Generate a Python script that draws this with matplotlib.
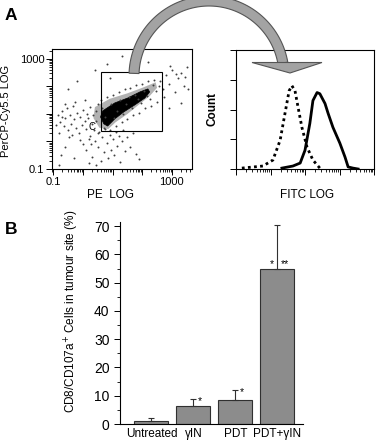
import numpy as np
import matplotlib
matplotlib.use('Agg')
import matplotlib.pyplot as plt
from matplotlib.patches import Polygon, Rectangle
from matplotlib.ticker import LogLocator, MultipleLocator

plt.rcParams['font.family'] = ['Liberation Sans', 'DejaVu Sans']

# ---- panel B: bar chart values
groups = ['Untreated', 'γIN', 'PDT', 'PDT+γIN']
cd107_pct = [1.2, 6.2, 8.6, 54.8]
cd107_err = [0.9, 2.8, 3.3, 15.7]

# ---- panel A right: FITC histograms (log10 FITC, relative count)
iso_fitc_log = [0.17, 0.78, 1.07, 1.28, 1.42, 1.54, 1.62, 1.71, 1.80, 1.91, 2.06, 2.23, 2.43]
iso_count = [0.03, 0.10, 0.30, 0.97, 1.87, 2.63, 2.80, 2.63, 2.07, 1.40, 0.73, 0.30, 0.03]
cd107_fitc_log = [1.33, 1.65, 1.86, 2.00, 2.14, 2.23, 2.35, 2.43, 2.58, 2.67, 2.81, 3.01, 3.16, 3.25, 3.39, 3.54]
cd107_count = [0.03, 0.10, 0.20, 0.63, 1.53, 2.30, 2.57, 2.53, 2.20, 1.87, 1.40, 0.87, 0.40, 0.07, 0.03, 0.00]

# ---- panel A left: PE vs PerCP-Cy5.5 events (log10 values)
pe_log = [
    -0.85, -0.78, -0.72, -0.66, -0.60, -0.55, -0.50, -0.45, -0.40, -0.35,
    -0.30, -0.25, -0.20, -0.15, -0.10, -0.05, 0.00, 0.05, 0.10, 0.12,
    0.18, 0.22, 0.25, 0.30, 0.35, 0.38, 0.42, 0.45, 0.50, 0.52,
    -0.80, -0.62, -0.48, -0.28, -0.12, 0.08, 0.28, -0.90, -0.70, -0.38,
    0.10, 0.20, 0.30, 0.40, 0.50, 0.55, 0.60, 0.65, 0.70, 0.75,
    0.80, 0.85, 0.90, 0.95, 1.00, 1.05, 1.10, 1.15, 1.20, 1.25,
    1.30, 1.35, 1.40, 1.50, 1.60, 1.70, 1.80, 0.45, -0.30, -0.60,
    -0.75, 0.00,
    0.60, 0.70, 0.80, 0.90, 1.00, 1.10, 1.20, 1.30, 1.40, 1.50,
    1.60, 1.70, 1.80, 1.90, 2.00, 2.10, 2.20, 2.30, 2.40, 2.50,
    0.65, 0.95, 1.25, 1.55, 1.85, 2.15, 2.45, 1.05, 1.35, 1.65,
    1.95, 2.25, 2.55, 0.75, 1.15, 1.45, 1.75, 2.05, 2.35, 2.60,
    2.70, 2.80, 2.90, 3.00, 3.10, 3.20, 3.30, 3.40, 3.50, 2.75,
    2.95, 3.15, 3.45, 3.55,
    0.80, 1.30, -0.20, 0.40, 1.90, 2.20, -0.50, 0.90, 3.30, 2.90,
    -0.80, 1.90, 0.20,
]
percp_log = [
    0.95, 0.70, 1.10, 0.55, 0.85, 1.20, 0.40, 0.95, 0.65, 1.30,
    0.80, 0.50, 1.05, 0.30, 0.90, 0.60, 1.15, 0.75, 0.45, 1.00,
    0.85, 0.20, 1.25, 0.65, 0.95, 0.40, 1.10, 0.75, 0.30, 1.35,
    0.30, 1.35, 0.15, 1.45, 0.05, 1.50, -0.10, 0.60, 0.90, 0.25,
    -0.30, 0.10, -0.55, 0.00, -0.20, 0.35, -0.70, 0.15, -0.40, 0.45,
    -0.05, -0.60, 0.25, -0.30, 0.10, -0.50, 0.35, -0.15, 0.20, -0.75,
    0.00, 0.40, -0.35, 0.15, -0.20, 0.30, -0.45, -0.85, -0.60, -0.20,
    -0.50, -0.10,
    1.50, 0.50, 1.60, 0.40, 1.70, 0.55, 1.80, 0.70, 1.90, 0.80,
    1.95, 0.95, 2.05, 1.05, 2.10, 1.20, 2.20, 1.30, 2.25, 1.45,
    1.20, 1.35, 1.50, 1.60, 1.55, 1.65, 1.85, 0.85, 1.00, 1.20,
    1.40, 1.55, 2.00, 0.90, 1.10, 1.35, 1.70, 1.85, 2.05, 2.20,
    1.90, 2.40, 2.10, 2.60, 1.80, 2.30, 2.50, 2.00, 2.70, 1.60,
    2.75, 2.45, 2.35, 1.90,
    2.80, 3.10, 2.20, 2.60, 3.05, 2.90, 1.90, 2.30, 1.40, 1.20,
    -0.85, -0.65, -0.80,
]
# dense core of events (outline) and the grey zone around it
core_pe_log = [0.66, 1.07, 1.51, 1.92, 2.19, 2.25, 2.09, 1.75, 1.37, 1.07, 0.83, 0.70, 0.59]
core_percp_log = [1.11, 1.40, 1.58, 1.80, 1.91, 1.80, 1.58, 1.33, 1.07, 0.82, 0.56, 0.64, 0.89]
halo_pe_log = [0.40, 0.90, 1.50, 2.00, 2.45, 2.50, 2.25, 1.90, 1.50, 1.10, 0.85, 0.55, 0.35]
halo_percp_log = [1.25, 1.55, 1.75, 1.95, 2.15, 1.95, 1.65, 1.35, 1.00, 0.70, 0.45, 0.50, 0.85]
gate_pe_log = [0.59, 2.66]
gate_percp_log = [0.38, 2.53]

W, H = 376, 443
fig = plt.figure(figsize=(W / 100, H / 100), dpi=100)


def box(left, top, right, bottom):
    return [left / W, 1 - bottom / H, (right - left) / W, (bottom - top) / H]


def fpt(x, y):
    return (x / W, 1 - y / H)


# ---------------- scatter
ax_s = fig.add_axes(box(52, 49, 192, 169))
ax_s.set_xscale('log')
ax_s.set_yscale('log')
ax_s.add_patch(Polygon(np.column_stack([10 ** np.array(halo_pe_log), 10 ** np.array(halo_percp_log)]),
                       closed=True, facecolor='#808080', edgecolor='none', alpha=0.6))
ax_s.add_patch(Polygon(np.column_stack([10 ** np.array(core_pe_log), 10 ** np.array(core_percp_log)]),
                       closed=True, facecolor='black', edgecolor='black', lw=0.5))
ax_s.scatter(10 ** np.array(pe_log), 10 ** np.array(percp_log), s=2.0, c='#404040', lw=0)
gx = 10 ** np.array(gate_pe_log)
gy = 10 ** np.array(gate_percp_log)
ax_s.add_patch(Rectangle((gx[0], gy[0]), gx[1] - gx[0], gy[1] - gy[0],
                         fill=False, edgecolor='black', lw=0.8))
ax_s.text(10 ** 0.29, 10 ** 0.53, 'C', fontsize=7, ha='center', va='center')
ax_s.set_xlim(10 ** -1.05, 10 ** 3.68)
ax_s.set_ylim(10 ** -1, 10 ** 3.36)
for axis in (ax_s.xaxis, ax_s.yaxis):
    axis.set_minor_locator(LogLocator(base=10, subs=np.arange(2, 10), numticks=20))
ax_s.set_xticks([0.1, 1, 10, 100, 1000], labels=['0.1', '', '', '', '1000'])
ax_s.set_yticks([0.1, 1, 10, 100, 1000], labels=['0.1', '', '', '', '1000'])
ax_s.tick_params(which='major', direction='out', length=4, width=0.7, labelsize=8, pad=1.5)
ax_s.tick_params(which='minor', direction='out', length=2.5, width=0.6)
ax_s.set_xlabel('PE  LOG', fontsize=8.5)
ax_s.xaxis.set_label_coords(0.42, -0.17)
ax_s.set_ylabel('PerCP-Cy5.5 LOG', fontsize=8)
ax_s.yaxis.set_label_coords(-0.29, 0.48)
for sp in ax_s.spines.values():
    sp.set_linewidth(0.8)

# ---------------- histogram
ax_h = fig.add_axes(box(236, 50, 374, 169))
ax_h.set_xscale('log')
ax_h.plot(10 ** np.array(iso_fitc_log), iso_count, color='black', lw=2, ls=(0, (1, 1.2)))
ax_h.plot(10 ** np.array(cd107_fitc_log), cd107_count, color='black', lw=2)
ax_h.set_xlim(1, 10 ** 4)
ax_h.set_ylim(0, 4)
ax_h.set_yticks([0, 1, 2, 3, 4], labels=[])
ax_h.set_xticks([1, 10, 100, 1000, 10000], labels=[])
ax_h.xaxis.set_minor_locator(LogLocator(base=10, subs=np.arange(2, 10), numticks=20))
ax_h.tick_params(which='major', direction='out', length=4, width=0.7)
ax_h.tick_params(which='minor', direction='out', length=2.5, width=0.6, labelbottom=False)
ax_h.set_xlabel('FITC LOG', fontsize=8.5)
ax_h.xaxis.set_label_coords(0.515, -0.17)
ax_h.set_ylabel('Count', fontsize=8.5, fontweight='bold')
ax_h.yaxis.set_label_coords(-0.13, 0.5)
for sp in ax_h.spines.values():
    sp.set_linewidth(0.8)

# ---------------- curved arrow from the gate to the histogram
cx, cy = 209, 76
th = np.radians(np.linspace(10, 178, 80))
outer = [fpt(cx + 80 * np.cos(t), cy - 80 * np.sin(t)) for t in th]
inner = [fpt(cx + 70 * np.cos(t), cy - 70 * np.sin(t)) for t in th[::-1]]
fig.add_artist(Polygon(outer + inner, closed=True, transform=fig.transFigure,
                       facecolor='#a3a3a3', edgecolor='#555555', lw=0.8, zorder=5))
fig.add_artist(Polygon([fpt(252, 62.5), fpt(322, 62.5), fpt(290, 73)], closed=True,
                       transform=fig.transFigure, facecolor='#a3a3a3',
                       edgecolor='#555555', lw=0.8, zorder=6))

# ---------------- bar chart
ax_b = fig.add_axes(box(120, 222, 303, 424))
x = np.arange(len(groups))
ax_b.bar(x, cd107_pct, width=0.81, color='#8c8c8c', edgecolor='#303030', lw=0.8, zorder=2)
ax_b.errorbar(x, cd107_pct, yerr=[np.zeros(len(x)), cd107_err], fmt='none', ecolor='#303030',
              elinewidth=0.8, capsize=2.5, capthick=0.8, zorder=3)
ax_b.text(x[1] + 0.16, cd107_pct[1] + cd107_err[1] - 1.8, '*', fontsize=7.5, ha='center')
ax_b.text(x[2] + 0.16, cd107_pct[2] + cd107_err[2] - 1.8, '*', fontsize=7.5, ha='center')
ax_b.text(x[3] - 0.13, cd107_pct[3] + 0.6, '*', fontsize=7.5, ha='center')
ax_b.text(x[3] + 0.19, cd107_pct[3] + 0.6, '**', fontsize=7.5, ha='center')
ax_b.set_xlim(-0.75, 3.61)
ax_b.set_ylim(0, 71.5)
ax_b.set_xticks(x, labels=groups)
ax_b.yaxis.set_major_locator(MultipleLocator(10))
ax_b.yaxis.set_minor_locator(MultipleLocator(5))
ax_b.tick_params(axis='x', length=0, labelsize=8.5, pad=3)
ax_b.tick_params(axis='y', which='major', direction='out', length=4, width=0.7, labelsize=10)
ax_b.tick_params(axis='y', which='minor', direction='out', length=2, width=0.6)
ax_b.spines['top'].set_visible(False)
ax_b.spines['right'].set_visible(False)
ax_b.set_ylabel('CD8/CD107a$^{+}$ Cells in tumour site (%)', fontsize=8.5)
ax_b.yaxis.set_label_coords(-0.215, 0.56)

fig.text(5 / W, 1 - 15 / H, 'A', fontsize=12.5, fontweight='bold', va='center')
fig.text(5 / W, 1 - 229 / H, 'B', fontsize=12.5, fontweight='bold', va='center')

fig.savefig('out.png', dpi=100)
